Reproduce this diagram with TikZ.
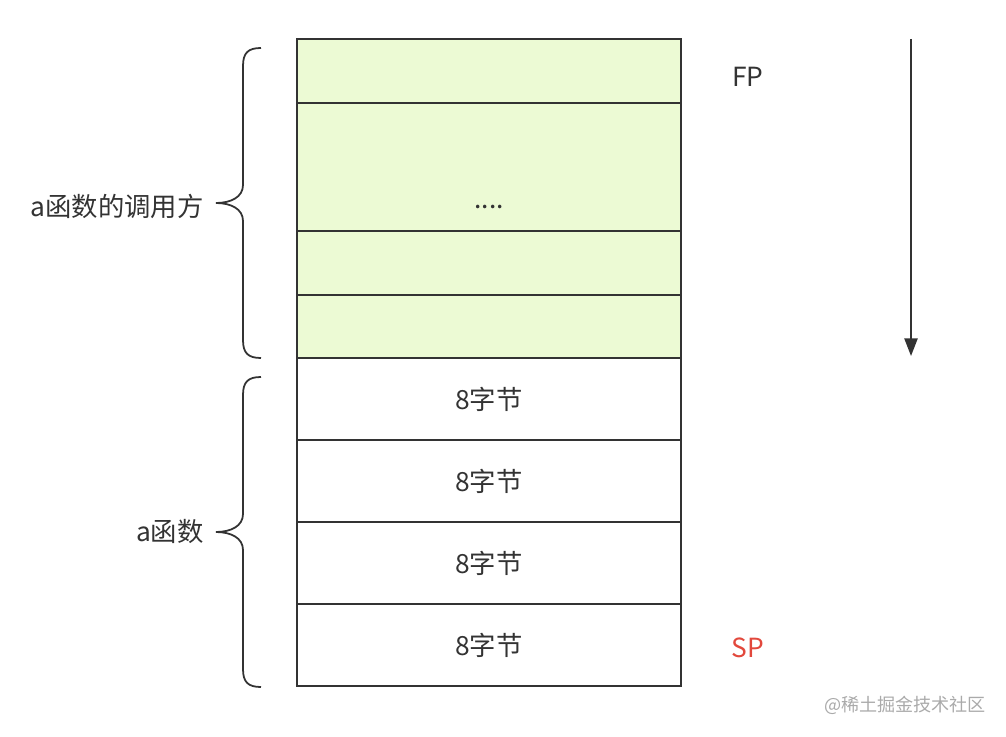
\documentclass[tikz,border=0pt]{standalone}
\usepackage{fontspec}
\setmainfont{Noto Sans CJK SC}
\usetikzlibrary{arrows.meta}
\definecolor{linec}{RGB}{51,51,51}
\definecolor{callerfill}{RGB}{236,250,212}
\definecolor{spred}{RGB}{226,72,60}
\definecolor{markgray}{RGB}{170,170,170}
\begin{document}
\begin{tikzpicture}[
    x=0.02cm, y=-0.02cm,
    cell/.style={rectangle, draw=linec, line width=1pt, minimum width=7.68cm, inner sep=0pt, text=linec, font=\fontsize{15pt}{17pt}\selectfont},
    caller/.style={cell, fill=callerfill},
    lbl/.style={inner sep=0pt, text=linec, font=\fontsize{15pt}{17pt}\selectfont},
    bracepath/.style={draw=linec, line width=1pt}
]
    \useasboundingbox (0,0) rectangle (1006,736);

    % Aufrufer (gruen)
    \node[caller, minimum height=1.28cm] (c1) at (489,71) {};
    \node[caller, minimum height=2.56cm] (c2) at (489,167) {};
    \node[caller, minimum height=1.28cm] (c3) at (489,263) {};
    \node[caller, minimum height=1.26cm] (c4) at (489,326.5) {};
    \node[lbl, anchor=base] (dots) at (489,209) {....};

    % a-Funktion (weiss)
    \node[cell, minimum height=1.64cm] (f1) at (489,399) {\raisebox{-1pt}{8字节}};
    \node[cell, minimum height=1.64cm] (f2) at (489,481) {\raisebox{-1pt}{8字节}};
    \node[cell, minimum height=1.64cm] (f3) at (489,563) {\raisebox{-1pt}{8字节}};
    \node[cell, minimum height=1.64cm] (f4) at (489,645) {\raisebox{-1pt}{8字节}};

    % Klammern
    \draw[bracepath] (261,48) .. controls (248,48) and (243,53) .. (243,66) -- (243,185)
        .. controls (243,197) and (231,203) .. (216,203)
        .. controls (231,203) and (243,209) .. (243,221) -- (243,340)
        .. controls (243,353) and (248,358) .. (261,358);
    \draw[bracepath] (261,377) .. controls (248,377) and (243,382) .. (243,395) -- (243,514)
        .. controls (243,526) and (231,532) .. (216,532)
        .. controls (231,532) and (243,538) .. (243,550) -- (243,669)
        .. controls (243,682) and (248,687) .. (261,687);
    \node[lbl, anchor=east] (callerlbl) at (204,206) {a函数的调用方};
    \node[lbl, anchor=east] (funclbl) at (204,532) {a函数};

    % Register
    \node[lbl] (fp) at (748,77) {FP};
    \node[lbl, text=spred] (sp) at (748,648) {SP};

    % Wachstumsrichtung
    \coordinate (growtop) at (911,39);
    \coordinate (growbot) at (911,356);
    \draw[draw=linec, line width=1pt, -{Triangle[width=7.5pt, length=10pt]}] (growtop) -- (growbot);

    % Wasserzeichen
    \node[inner sep=0pt, text=markgray, font=\fontsize{10.3pt}{12pt}\selectfont] (mark) at (905,705) {@稀土掘金技术社区};
\end{tikzpicture}
\end{document}
